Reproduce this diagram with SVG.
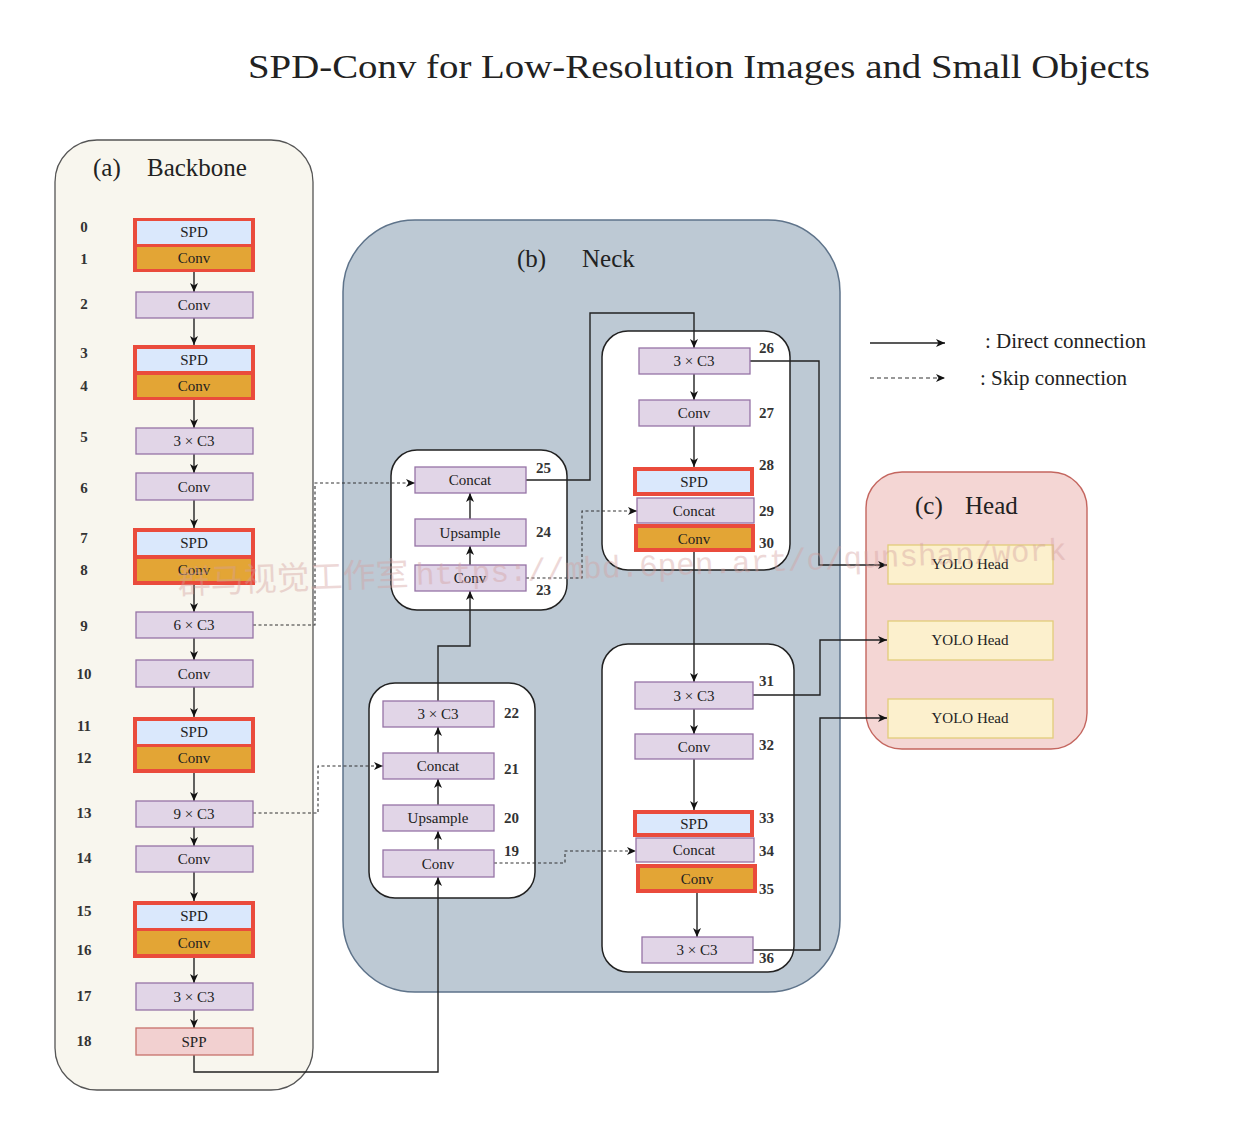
<svg xmlns="http://www.w3.org/2000/svg" width="1250" height="1131" viewBox="0 0 1250 1131">
<defs>
<marker id="ah" markerUnits="userSpaceOnUse" markerWidth="10" markerHeight="10" refX="9" refY="4" orient="auto">
<path d="M0,0 L9,4 L0,8 L2.5,4 z" fill="#111"/>
</marker>
<style>
text{font-family:"Liberation Serif","DejaVu Serif",serif;fill:#222}
.nt{font-size:15px;text-anchor:middle}
.idx{font-size:15px;text-anchor:middle;font-weight:bold;fill:#333}
.idn{font-size:15px;font-weight:bold;fill:#333}
.sec{font-size:25px}
.pur{fill:#e1d5e7;stroke:#9673a6;stroke-width:1.3}
.spd{fill:#dae8fc;stroke:none}
.org{fill:#e3a535;stroke:none}
.red{fill:#ea4b3c;stroke:none}
.spp{fill:#f2d0d0;stroke:#c7706a;stroke-width:1.3}
.yolo{fill:#fcf0cd;stroke:#e2cc7a;stroke-width:1.3}
.inner{fill:#fff;stroke:#222;stroke-width:1.5}
.ln{fill:none;stroke:#222;stroke-width:1.4}
.sk{fill:none;stroke:#333;stroke-width:1.1;stroke-dasharray:3,2.5}
</style>
</defs>
<rect width="1250" height="1131" fill="#fff"/>

<text x="699" y="78" font-size="33" text-anchor="middle" textLength="902" lengthAdjust="spacingAndGlyphs">SPD-Conv for Low-Resolution Images and Small Objects</text>

<!-- containers -->
<g id="backbone">
<rect x="55" y="140" width="258" height="950" rx="42" fill="#f8f6ee" stroke="#555" stroke-width="1.3"/>
<text x="93" y="176" class="sec">(a)</text>
<text x="147" y="176" class="sec">Backbone</text>
</g>
<g id="neck">
<rect x="343" y="220" width="497" height="772" rx="72" fill="#bdc9d4" stroke="#5e738a" stroke-width="1.5"/>
<text x="517" y="267" class="sec">(b)</text>
<text x="582" y="267" class="sec">Neck</text>
<rect x="391" y="450" width="176" height="160" rx="26" class="inner"/>
<rect x="369" y="683" width="166" height="215" rx="26" class="inner"/>
<rect x="602" y="331" width="188" height="239" rx="26" class="inner"/>
<rect x="602" y="644" width="192" height="328" rx="26" class="inner"/>
</g>
<g id="head">
<rect x="866" y="472" width="221" height="277" rx="36" fill="#f4d6d4" stroke="#c4665f" stroke-width="1.4"/>
<text x="915" y="514" class="sec">(c)</text>
<text x="965" y="514" class="sec">Head</text>
</g>

<!-- legend -->
<g id="legend">
<line x1="870" y1="343" x2="945" y2="343" class="ln" marker-end="url(#ah)"/>
<text x="985" y="348" font-size="21">: Direct connection</text>
<line x1="870" y1="378" x2="945" y2="378" fill="none" stroke="#333" stroke-width="1.2" stroke-dasharray="4,3" marker-end="url(#ah)"/>
<text x="980" y="385" font-size="21">: Skip connection</text>
</g>

<!-- connectors -->
<g id="connectors">
<line x1="194" y1="272" x2="194" y2="292" class="ln" marker-end="url(#ah)"/>
<line x1="194" y1="318" x2="194" y2="345" class="ln" marker-end="url(#ah)"/>
<line x1="194" y1="400" x2="194" y2="428" class="ln" marker-end="url(#ah)"/>
<line x1="194" y1="454" x2="194" y2="473" class="ln" marker-end="url(#ah)"/>
<line x1="194" y1="500" x2="194" y2="528" class="ln" marker-end="url(#ah)"/>
<line x1="194" y1="585" x2="194" y2="612" class="ln" marker-end="url(#ah)"/>
<line x1="194" y1="638" x2="194" y2="660" class="ln" marker-end="url(#ah)"/>
<line x1="194" y1="687" x2="194" y2="717" class="ln" marker-end="url(#ah)"/>
<line x1="194" y1="773" x2="194" y2="801" class="ln" marker-end="url(#ah)"/>
<line x1="194" y1="827" x2="194" y2="846" class="ln" marker-end="url(#ah)"/>
<line x1="194" y1="872" x2="194" y2="901" class="ln" marker-end="url(#ah)"/>
<line x1="194" y1="958" x2="194" y2="983" class="ln" marker-end="url(#ah)"/>
<line x1="194" y1="1010" x2="194" y2="1028" class="ln" marker-end="url(#ah)"/>
<!-- SPP to Conv 19 -->
<path d="M194,1055 V1072 H438 V877" class="ln" marker-end="url(#ah)"/>
<!-- neck up arrows -->
<line x1="438" y1="850" x2="438" y2="831" class="ln" marker-end="url(#ah)"/>
<line x1="438" y1="805" x2="438" y2="779" class="ln" marker-end="url(#ah)"/>
<line x1="438" y1="753" x2="438" y2="727" class="ln" marker-end="url(#ah)"/>
<path d="M438,701 V646 H470 V591" class="ln" marker-end="url(#ah)"/>
<line x1="470" y1="565" x2="470" y2="546" class="ln" marker-end="url(#ah)"/>
<line x1="470" y1="519" x2="470" y2="493" class="ln" marker-end="url(#ah)"/>
<path d="M526,480 H590 V313 H694 V348" class="ln" marker-end="url(#ah)"/>
<line x1="694" y1="374" x2="694" y2="400" class="ln" marker-end="url(#ah)"/>
<line x1="694" y1="426" x2="694" y2="467" class="ln" marker-end="url(#ah)"/>
<line x1="694" y1="552" x2="694" y2="682" class="ln" marker-end="url(#ah)"/>
<line x1="694" y1="709" x2="694" y2="734" class="ln" marker-end="url(#ah)"/>
<line x1="694" y1="759" x2="694" y2="810" class="ln" marker-end="url(#ah)"/>
<line x1="697" y1="893" x2="697" y2="937" class="ln" marker-end="url(#ah)"/>
<!-- to heads -->
<path d="M750,361 H819 V565 H887" class="ln" marker-end="url(#ah)"/>
<path d="M753,695 H820 V640 H887" class="ln" marker-end="url(#ah)"/>
<path d="M753,950 H820 V718 H887" class="ln" marker-end="url(#ah)"/>
<!-- skip connections -->
<path d="M253,625 H315 V483 H415" class="sk" marker-end="url(#ah)"/>
<path d="M253,813 H318 V766 H383" class="sk" marker-end="url(#ah)"/>
<path d="M526,578 H582 V511 H637" class="sk" marker-end="url(#ah)"/>
<path d="M494,863 H565 V851 H636" class="sk" marker-end="url(#ah)"/>
</g>

<!-- backbone nodes -->
<g id="n0-1">
<rect x="133" y="218" width="122" height="54" class="red"/>
<rect x="137" y="221" width="114" height="23" class="spd"/>
<rect x="137" y="247" width="114" height="22" class="org"/>
<text x="194" y="237" class="nt">SPD</text>
<text x="194" y="263" class="nt">Conv</text>
<text x="84" y="232" class="idx">0</text>
<text x="84" y="264" class="idx">1</text>
</g>
<g id="n2"><rect x="136" y="292" width="117" height="26" class="pur"/><text x="194" y="310" class="nt">Conv</text><text x="84" y="309" class="idx">2</text></g>
<g id="n3-4">
<rect x="133" y="345" width="122" height="55" class="red"/>
<rect x="137" y="349" width="114" height="22" class="spd"/>
<rect x="137" y="375" width="114" height="22" class="org"/>
<text x="194" y="365" class="nt">SPD</text>
<text x="194" y="391" class="nt">Conv</text>
<text x="84" y="358" class="idx">3</text>
<text x="84" y="391" class="idx">4</text>
</g>
<g id="n5"><rect x="136" y="428" width="117" height="26" class="pur"/><text x="194" y="446" class="nt">3 × C3</text><text x="84" y="442" class="idx">5</text></g>
<g id="n6"><rect x="136" y="473" width="117" height="27" class="pur"/><text x="194" y="492" class="nt">Conv</text><text x="84" y="493" class="idx">6</text></g>
<g id="n7-8">
<rect x="133" y="528" width="122" height="57" class="red"/>
<rect x="137" y="532" width="114" height="23" class="spd"/>
<rect x="137" y="559" width="114" height="22" class="org"/>
<text x="194" y="548" class="nt">SPD</text>
<text x="194" y="575" class="nt">Conv</text>
<text x="84" y="543" class="idx">7</text>
<text x="84" y="575" class="idx">8</text>
</g>
<g id="n9"><rect x="136" y="612" width="117" height="26" class="pur"/><text x="194" y="630" class="nt">6 × C3</text><text x="84" y="631" class="idx">9</text></g>
<g id="n10"><rect x="136" y="660" width="117" height="27" class="pur"/><text x="194" y="679" class="nt">Conv</text><text x="84" y="679" class="idx">10</text></g>
<g id="n11-12">
<rect x="133" y="717" width="122" height="56" class="red"/>
<rect x="137" y="721" width="114" height="23" class="spd"/>
<rect x="137" y="747" width="114" height="22" class="org"/>
<text x="194" y="737" class="nt">SPD</text>
<text x="194" y="763" class="nt">Conv</text>
<text x="84" y="731" class="idx">11</text>
<text x="84" y="763" class="idx">12</text>
</g>
<g id="n13"><rect x="136" y="801" width="117" height="26" class="pur"/><text x="194" y="819" class="nt">9 × C3</text><text x="84" y="818" class="idx">13</text></g>
<g id="n14"><rect x="136" y="846" width="117" height="26" class="pur"/><text x="194" y="864" class="nt">Conv</text><text x="84" y="863" class="idx">14</text></g>
<g id="n15-16">
<rect x="133" y="901" width="122" height="57" class="red"/>
<rect x="137" y="905" width="114" height="23" class="spd"/>
<rect x="137" y="931" width="114" height="23" class="org"/>
<text x="194" y="921" class="nt">SPD</text>
<text x="194" y="948" class="nt">Conv</text>
<text x="84" y="916" class="idx">15</text>
<text x="84" y="955" class="idx">16</text>
</g>
<g id="n17"><rect x="136" y="983" width="117" height="27" class="pur"/><text x="194" y="1002" class="nt">3 × C3</text><text x="84" y="1001" class="idx">17</text></g>
<g id="n18"><rect x="136" y="1028" width="117" height="27" class="spp"/><text x="194" y="1047" class="nt">SPP</text><text x="84" y="1046" class="idx">18</text></g>

<!-- neck nodes -->
<g id="n19"><rect x="383" y="850" width="111" height="27" class="pur"/><text x="438" y="869" class="nt">Conv</text><text x="504" y="856" class="idn">19</text></g>
<g id="n20"><rect x="383" y="805" width="111" height="26" class="pur"/><text x="438" y="823" class="nt">Upsample</text><text x="504" y="823" class="idn">20</text></g>
<g id="n21"><rect x="383" y="753" width="111" height="26" class="pur"/><text x="438" y="771" class="nt">Concat</text><text x="504" y="774" class="idn">21</text></g>
<g id="n22"><rect x="383" y="701" width="111" height="26" class="pur"/><text x="438" y="719" class="nt">3 × C3</text><text x="504" y="718" class="idn">22</text></g>
<g id="n23"><rect x="415" y="565" width="111" height="26" class="pur"/><text x="470" y="583" class="nt">Conv</text><text x="536" y="595" class="idn">23</text></g>
<g id="n24"><rect x="415" y="519" width="111" height="27" class="pur"/><text x="470" y="538" class="nt">Upsample</text><text x="536" y="537" class="idn">24</text></g>
<g id="n25"><rect x="415" y="467" width="111" height="26" class="pur"/><text x="470" y="485" class="nt">Concat</text><text x="536" y="473" class="idn">25</text></g>
<g id="n26"><rect x="639" y="348" width="111" height="26" class="pur"/><text x="694" y="366" class="nt">3 × C3</text><text x="759" y="353" class="idn">26</text></g>
<g id="n27"><rect x="639" y="400" width="111" height="26" class="pur"/><text x="694" y="418" class="nt">Conv</text><text x="759" y="418" class="idn">27</text></g>
<g id="n28"><rect x="633" y="467" width="121" height="29" class="red"/><rect x="637" y="471" width="113" height="21" class="spd"/><text x="694" y="487" class="nt">SPD</text><text x="759" y="470" class="idn">28</text></g>
<g id="n29"><rect x="637" y="498" width="117" height="25" class="pur"/><text x="694" y="516" class="nt">Concat</text><text x="759" y="516" class="idn">29</text></g>
<g id="n30"><rect x="634" y="524" width="121" height="28" class="red"/><rect x="638" y="528" width="113" height="20" class="org"/><text x="694" y="544" class="nt">Conv</text><text x="759" y="548" class="idn">30</text></g>
<g id="n31"><rect x="635" y="682" width="118" height="27" class="pur"/><text x="694" y="701" class="nt">3 × C3</text><text x="759" y="686" class="idn">31</text></g>
<g id="n32"><rect x="635" y="734" width="118" height="25" class="pur"/><text x="694" y="752" class="nt">Conv</text><text x="759" y="750" class="idn">32</text></g>
<g id="n33"><rect x="633" y="810" width="121" height="27" class="red"/><rect x="637" y="814" width="113" height="19" class="spd"/><text x="694" y="829" class="nt">SPD</text><text x="759" y="823" class="idn">33</text></g>
<g id="n34"><rect x="636" y="838" width="118" height="24" class="pur"/><text x="694" y="855" class="nt">Concat</text><text x="759" y="856" class="idn">34</text></g>
<g id="n35"><rect x="636" y="864" width="121" height="29" class="red"/><rect x="640" y="868" width="113" height="21" class="org"/><text x="697" y="884" class="nt">Conv</text><text x="759" y="894" class="idn">35</text></g>
<g id="n36"><rect x="642" y="937" width="111" height="26" class="pur"/><text x="697" y="955" class="nt">3 × C3</text><text x="759" y="963" class="idn">36</text></g>

<!-- head nodes -->
<g id="h1"><rect x="888" y="545" width="165" height="39" class="yolo"/><text x="970" y="569" class="nt">YOLO Head</text></g>
<g id="h2"><rect x="888" y="621" width="165" height="39" class="yolo"/><text x="970" y="645" class="nt">YOLO Head</text></g>
<g id="h3"><rect x="888" y="699" width="165" height="39" class="yolo"/><text x="970" y="723" class="nt">YOLO Head</text></g>

<!-- watermark -->
<g id="watermark" transform="rotate(-2.2 178 592)" opacity="0.4">
<text x="178" y="594" font-size="33" style="font-family:'Noto Sans CJK SC','DejaVu Sans',sans-serif;fill:#d4a09e">群马视觉工作室 <tspan style="font-family:'Liberation Mono','DejaVu Sans Mono',monospace" font-size="31">https://mbd.6pen.art/o/qunshan/work</tspan></text>
</g>
</svg>
